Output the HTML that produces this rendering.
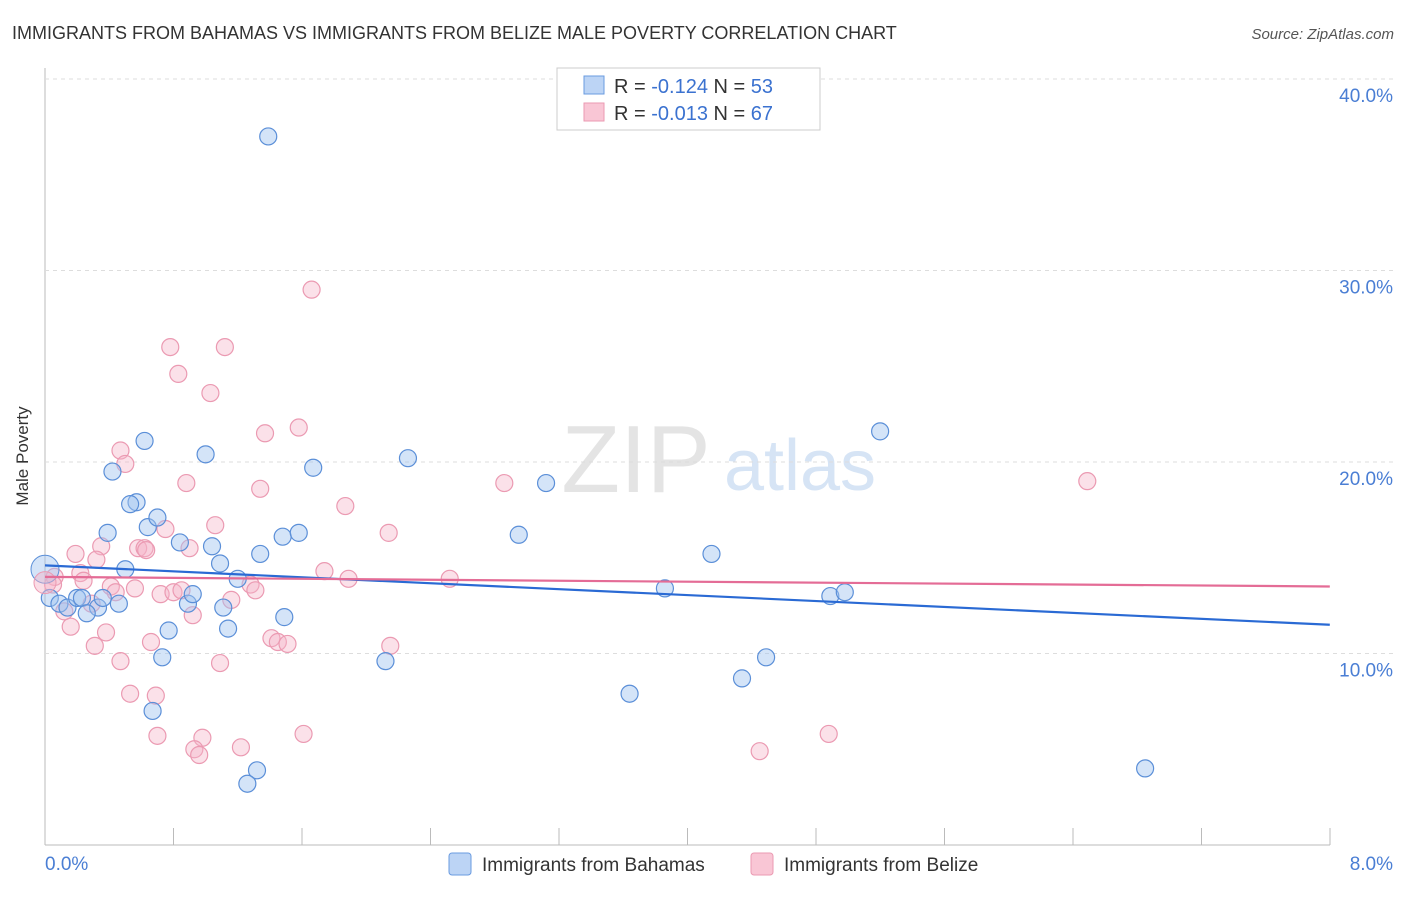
<!DOCTYPE html>
<html><head><meta charset="utf-8"><style>
body{margin:0;background:#fff;font-family:"Liberation Sans",sans-serif;}
svg text{font-family:"Liberation Sans",sans-serif;}
</style></head><body>
<svg id="c" width="1406" height="892">
<text x="12" y="39" font-size="18" fill="#333">IMMIGRANTS FROM BAHAMAS VS IMMIGRANTS FROM BELIZE MALE POVERTY CORRELATION CHART</text>
<text x="1394" y="39" font-size="15" fill="#555" font-style="italic" text-anchor="end">Source: ZipAtlas.com</text>
<text x="28" y="456" font-size="17" fill="#333" text-anchor="middle" transform="rotate(-90 28 456)">Male Poverty</text>
<g><text x="636" y="492" font-size="96" fill="#e4e4e4" font-family="Liberation Serif" text-anchor="middle">ZIP</text><text x="800" y="490" font-size="72" fill="#d6e4f5" text-anchor="middle">atlas</text></g>
<g id="grid"></g><g id="pts"></g><g id="lines"></g>
<g>
<rect x="557" y="68" width="263" height="62" fill="#fff" stroke="#ccc"/>
<rect x="584" y="76" width="20" height="18" fill="#bcd4f5" stroke="#6a9be0"/>
<rect x="584" y="103" width="20" height="18" fill="#f9c6d5" stroke="#eb9ab2"/>
<text x="614" y="93" font-size="20" fill="#333">R = <tspan fill="#3b72d0">-0.124</tspan>   N = <tspan fill="#3b72d0">53</tspan></text>
<text x="614" y="120" font-size="20" fill="#333">R = <tspan fill="#3b72d0">-0.013</tspan>   N = <tspan fill="#3b72d0">67</tspan></text>
</g>
<g>
<rect x="449" y="853" width="22" height="22" rx="3" fill="#bcd4f5" stroke="#6a9be0"/>
<text x="482" y="871" font-size="19" fill="#333">Immigrants from Bahamas</text>
<rect x="751" y="853" width="22" height="22" rx="3" fill="#f9c6d5" stroke="#eb9ab2"/>
<text x="784" y="871" font-size="19" fill="#333">Immigrants from Belize</text>
</g>
</svg>
<script>
const yTicks=[10,20,30,40];
const xTickLabels=["0.0%","8.0%"];
const blueX=[1.39,5.20,0.62,1.00,0.42,1.67,2.26,3.12,0.57,0.53,0.39,0.64,0.70,0.84,1.04,1.48,1.58,2.95,4.15,1.09,1.34,0.50,1.20,3.86,4.89,4.98,0.03,0.09,0.14,0.20,0.23,0.33,0.36,0.46,0.26,0.89,0.92,1.11,1.49,0.77,1.14,0.73,2.12,4.49,4.34,3.64,0.67,1.32,1.26,6.85];
const blueY=[37.0,21.6,21.1,20.4,19.5,19.7,20.2,18.9,17.9,17.8,16.3,16.6,17.1,15.8,15.6,16.1,16.3,16.2,15.2,14.7,15.2,14.4,13.9,13.4,13.0,13.2,12.9,12.6,12.4,12.9,12.9,12.4,12.9,12.6,12.1,12.6,13.1,12.4,11.9,11.2,11.3,9.8,9.6,9.8,8.7,7.9,7.0,3.9,3.2,4.0];
const pinkX=[1.66,0.78,1.12,0.83,1.03,1.58,1.37,0.47,0.50,0.88,1.34,2.86,6.49,1.87,1.06,0.75,2.14,0.19,0.35,0.58,0.62,0.63,0.90,0.32,0.22,0.06,1.74,1.89,2.52,0.24,0.41,0.56,1.28,1.31,0.72,0.80,0.85,1.16,0.44,0.05,0.12,0.16,0.29,0.92,0.38,0.66,0.31,1.41,1.45,1.51,2.15,0.47,1.09,0.53,0.69,0.70,1.61,4.88,1.22,0.98,0.93,0.96,4.45];
const pinkY=[29.0,26.0,26.0,24.6,23.6,21.8,21.5,20.6,19.9,18.9,18.6,18.9,19.0,17.7,16.7,16.5,16.3,15.2,15.6,15.5,15.5,15.4,15.5,14.9,14.2,14.0,14.3,13.9,13.9,13.8,13.5,13.4,13.6,13.3,13.1,13.2,13.3,12.8,13.2,13.6,12.2,11.4,12.6,12.0,11.1,10.6,10.4,10.8,10.6,10.5,10.4,9.6,9.5,7.9,7.8,5.7,5.8,5.8,5.1,5.6,5.0,4.7,4.9];
const blueTrend=[14.6,11.5];
const pinkTrend=[14.0,13.5];
const X=v=>45+v*160.6, Y=v=>845-v*19.15;
const NS="http://www.w3.org/2000/svg";
function mk(t,a,p){const e=document.createElementNS(NS,t);for(const k in a)e.setAttribute(k,a[k]);p.appendChild(e);return e;}
const g=document.getElementById('grid');
const ax=mk('line',{x1:45,y1:68,x2:45,y2:845,stroke:'#bbb'},g);


const bx=mk('line',{x1:45,y1:845,x2:1330,y2:845,stroke:'#bbb'},g);


for(let i=0;i<=10;i++){const t=mk('line',{x1:45+i*128.5,y1:828,x2:45+i*128.5,y2:845,stroke:'#bbb'},g);

}
yTicks.forEach(v=>{const l=mk('line',{x1:45,y1:Y(v),x2:1394,y2:Y(v),stroke:'#ddd','stroke-dasharray':'4,4'},g);


const t=mk('text',{x:1393,y:Y(v)+23,'font-size':19,fill:'#4a7ed4','text-anchor':'end'},g);t.textContent=v.toFixed(1)+'%';

});
xTickLabels.forEach((s,i)=>{const t=mk('text',{x:i?1393:45,y:870,'font-size':19,fill:'#4a7ed4','text-anchor':i?'end':'start'},g);t.textContent=s;

});
const p=document.getElementById('pts');
function dots(xs,ys,fill,stroke,name){xs.forEach((x,i)=>{const c=mk('circle',{cx:X(x),cy:Y(ys[i]),r:8.5,fill:fill,stroke:stroke,'stroke-width':1.2},p);

});}
dots(pinkX,pinkY,'rgba(246,180,200,0.4)','#eb9ab2','belize-point');
dots(blueX,blueY,'rgba(160,195,240,0.45)','#5b8fd8','bahamas-point');
const big1=mk('circle',{cx:X(0),cy:Y(14.4),r:14,fill:'rgba(160,195,240,0.45)',stroke:'#5b8fd8'},p);


const big2=mk('circle',{cx:X(0),cy:Y(13.7),r:11,fill:'rgba(246,180,200,0.45)',stroke:'#eb9ab2'},p);


const L=document.getElementById('lines');
const b=mk('line',{x1:X(0),y1:Y(blueTrend[0]),x2:X(8),y2:Y(blueTrend[1]),stroke:'#2a6ad4','stroke-width':2.2},L);


const pk=mk('line',{x1:X(0),y1:Y(pinkTrend[0]),x2:X(8),y2:Y(pinkTrend[1]),stroke:'#e46c96','stroke-width':2.2},L);


</script>
</body></html>
